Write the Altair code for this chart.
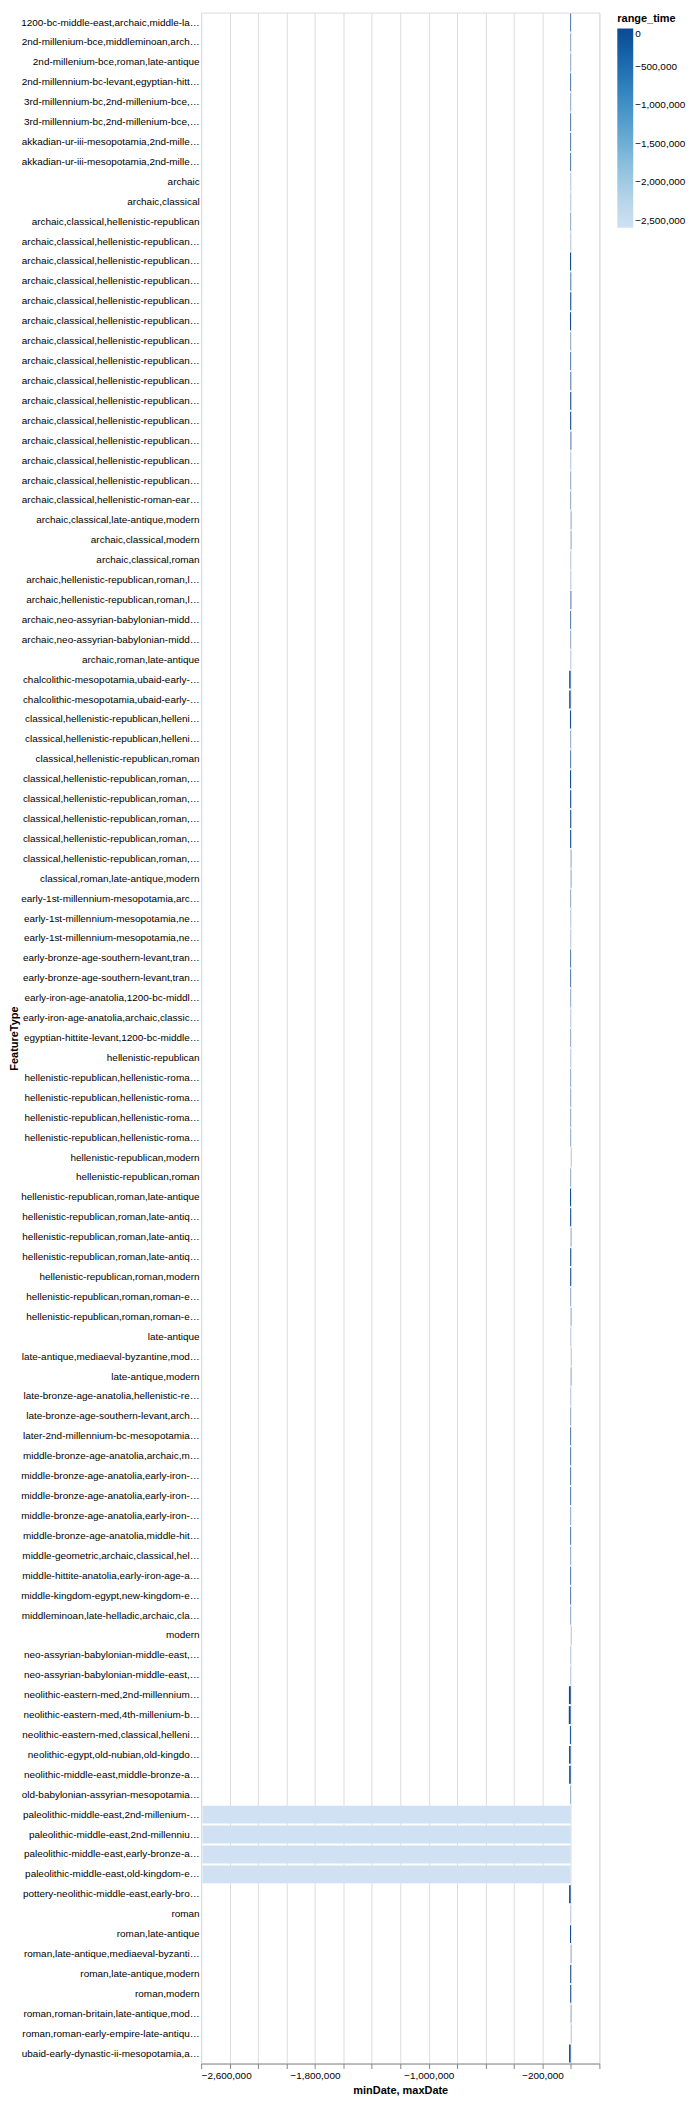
import altair as alt
import pandas as pd

feature_types = [
    "1200-bc-middle-east,archaic,middle-late-bronze-age",
    "2nd-millenium-bce,middleminoan,archaic,classical",
    "2nd-millenium-bce,roman,late-antique",
    "2nd-millennium-bc-levant,egyptian-hittite-levant,1200-bc-middle-east",
    "3rd-millennium-bc,2nd-millenium-bce,archaic",
    "3rd-millennium-bc,2nd-millenium-bce,classical",
    "akkadian-ur-iii-mesopotamia,2nd-millennium-bc-levant",
    "akkadian-ur-iii-mesopotamia,2nd-millennium-bc-mesopotamia",
    "archaic",
    "archaic,classical",
    "archaic,classical,hellenistic-republican",
    "archaic,classical,hellenistic-republican,hellenistic-roman-early-imperial",
    "archaic,classical,hellenistic-republican,late-antique",
    "archaic,classical,hellenistic-republican,mediaeval-byzantine",
    "archaic,classical,hellenistic-republican,modern",
    "archaic,classical,hellenistic-republican,roman",
    "archaic,classical,hellenistic-republican,roman,early-imperial",
    "archaic,classical,hellenistic-republican,roman,late-antique",
    "archaic,classical,hellenistic-republican,roman,late-antique,mediaeval-byzantine",
    "archaic,classical,hellenistic-republican,roman,late-antique,modern",
    "archaic,classical,hellenistic-republican,roman,mediaeval-byzantine",
    "archaic,classical,hellenistic-republican,roman,modern",
    "archaic,classical,hellenistic-republican,roman,roman-early-empire",
    "archaic,classical,hellenistic-republican,roman-early-empire-late-antique",
    "archaic,classical,hellenistic-roman-early-imperial",
    "archaic,classical,late-antique,modern",
    "archaic,classical,modern",
    "archaic,classical,roman",
    "archaic,hellenistic-republican,roman,late-antique",
    "archaic,hellenistic-republican,roman,late-antique,modern",
    "archaic,neo-assyrian-babylonian-middle-east,classical",
    "archaic,neo-assyrian-babylonian-middle-east,hellenistic-republican",
    "archaic,roman,late-antique",
    "chalcolithic-mesopotamia,ubaid-early-dynastic-ii-mesopotamia",
    "chalcolithic-mesopotamia,ubaid-early-dynastic-ii-mesopotamia,akkadian",
    "classical,hellenistic-republican,hellenistic-roman-early-imperial",
    "classical,hellenistic-republican,hellenistic-roman-early-imperial,roman",
    "classical,hellenistic-republican,roman",
    "classical,hellenistic-republican,roman,late-antique",
    "classical,hellenistic-republican,roman,late-antique,mediaeval-byzantine",
    "classical,hellenistic-republican,roman,late-antique,modern",
    "classical,hellenistic-republican,roman,mediaeval-byzantine",
    "classical,hellenistic-republican,roman,modern",
    "classical,roman,late-antique,modern",
    "early-1st-millennium-mesopotamia,archaic,classical",
    "early-1st-millennium-mesopotamia,neo-assyrian-babylonian-middle-east",
    "early-1st-millennium-mesopotamia,neo-babylonian-mesopotamia",
    "early-bronze-age-southern-levant,transjordan,late-bronze-age",
    "early-bronze-age-southern-levant,transjordan,middle-bronze-age",
    "early-iron-age-anatolia,1200-bc-middle-east,archaic",
    "early-iron-age-anatolia,archaic,classical,hellenistic-republican",
    "egyptian-hittite-levant,1200-bc-middle-east,archaic",
    "hellenistic-republican",
    "hellenistic-republican,hellenistic-roman-early-imperial",
    "hellenistic-republican,hellenistic-roman-early-imperial,late-antique",
    "hellenistic-republican,hellenistic-roman-early-imperial,roman",
    "hellenistic-republican,hellenistic-roman-early-imperial,roman,late-antique",
    "hellenistic-republican,modern",
    "hellenistic-republican,roman",
    "hellenistic-republican,roman,late-antique",
    "hellenistic-republican,roman,late-antique,mediaeval-byzantine",
    "hellenistic-republican,roman,late-antique,mediaeval-byzantine,modern",
    "hellenistic-republican,roman,late-antique,modern",
    "hellenistic-republican,roman,modern",
    "hellenistic-republican,roman,roman-early-empire-late-antique",
    "hellenistic-republican,roman,roman-early-empire-late-antique,modern",
    "late-antique",
    "late-antique,mediaeval-byzantine,modern",
    "late-antique,modern",
    "late-bronze-age-anatolia,hellenistic-republican,roman",
    "late-bronze-age-southern-levant,archaic,classical",
    "later-2nd-millennium-bc-mesopotamia,neo-assyrian-babylonian-middle-east",
    "middle-bronze-age-anatolia,archaic,middle-hittite-anatolia",
    "middle-bronze-age-anatolia,early-iron-age-anatolia",
    "middle-bronze-age-anatolia,early-iron-age-anatolia,archaic",
    "middle-bronze-age-anatolia,early-iron-age-anatolia,classical",
    "middle-bronze-age-anatolia,middle-hittite-anatolia",
    "middle-geometric,archaic,classical,hellenistic-republican",
    "middle-hittite-anatolia,early-iron-age-anatolia",
    "middle-kingdom-egypt,new-kingdom-egypt",
    "middleminoan,late-helladic,archaic,classical",
    "modern",
    "neo-assyrian-babylonian-middle-east,archaic",
    "neo-assyrian-babylonian-middle-east,classical",
    "neolithic-eastern-med,2nd-millennium-bc-levant",
    "neolithic-eastern-med,4th-millenium-bce,3rd-millennium-bc",
    "neolithic-eastern-med,classical,hellenistic-republican",
    "neolithic-egypt,old-nubian,old-kingdom-egypt",
    "neolithic-middle-east,middle-bronze-age-southern-levant",
    "old-babylonian-assyrian-mesopotamia,later-2nd-millennium-bc-mesopotamia",
    "paleolithic-middle-east,2nd-millenium-bce",
    "paleolithic-middle-east,2nd-millennium-bc-levant",
    "paleolithic-middle-east,early-bronze-age-southern-levant",
    "paleolithic-middle-east,old-kingdom-egypt",
    "pottery-neolithic-middle-east,early-bronze-age-southern-levant",
    "roman",
    "roman,late-antique",
    "roman,late-antique,mediaeval-byzantine,modern",
    "roman,late-antique,modern",
    "roman,modern",
    "roman,roman-britain,late-antique,modern",
    "roman,roman-early-empire-late-antique,modern",
    "ubaid-early-dynastic-ii-mesopotamia,akkadian-ur-iii-mesopotamia",
]

min_dates = [
    -4980, -2823, -1860, -5700, -2980, -4823, -5700, -5500, -1680, -1523,
    -2531, -1170, -6360, -3050, -5000, -6700, -2200, -3860, -3050, -5000,
    -5550, -2500, -900, -1860, -2470, -500, -500, -900, -560, -2500,
    -4823, -2531, -560, -12350, -12150, -6970, -2200, -4200, -6360, -5550,
    -5000, -5550, -500, -500, -2823, -1739, -1739, -5700, -6050, -2980,
    -1231, -2980, -1231, -2470, -1860, -2200, -1860, 800, -2200, -6360,
    -5550, -500, -5000, -5000, -1860, -500, -560, 800, -500, -900,
    -2823, -5039, -4980, -5200, -4980, -2823, -5680, -2531, -5200, -5570,
    -2823, 800, -1680, -1523, -14200, -15000, -7031, -13180, -12550, -3500,
    -2590000, -2590000, -2590000, -2590000, -13000, -900, -6360, -500, -5000, -5000,
    -500, 800, -13150,
]

max_dates = [
    -480, -323, 640, -1200, -480, -323, -1200, -1000, -480, -323,
    -31, 30, 640, 1450, 2000, 300, 300, 640, 1450, 2000,
    1450, 2000, 300, 640, 30, 2000, 2000, 300, 640, 2000,
    -323, -31, 640, -2350, -2150, 30, 300, 300, 640, 1450,
    2000, 1450, 2000, 2000, -323, -539, -539, -1200, -1550, -480,
    -31, -480, -31, 30, 640, 300, 640, 2000, 300, 640,
    1450, 2000, 2000, 2000, 640, 2000, 640, 2000, 2000, 300,
    -323, -539, -480, -700, -480, -323, -1180, -31, -700, -1070,
    -323, 2000, -480, -323, -1200, -2000, -31, -2180, -1550, -1000,
    -1000, -1200, -2000, -2180, -2000, 300, 640, 2000, 2000, 2000,
    2000, 2000, -2150,
]

df = pd.DataFrame({
    "FeatureType": feature_types,
    "minDate": min_dates,
    "maxDate": max_dates,
})

chart = (
    alt.Chart(df)
    .transform_calculate(range_time="datum.minDate - datum.maxDate")
    .mark_bar()
    .encode(
        x=alt.X("minDate:Q"),
        x2="maxDate:Q",
        y=alt.Y("FeatureType:N", sort=feature_types,
                axis=alt.Axis(domain=False, ticks=False, titlePadding=1)),
        color=alt.Color("range_time:Q", scale=alt.Scale(zero=True)),
    )
    .properties(
        width=400,
        height=alt.Step(20),
        padding={"left": 0, "top": 0, "right": 0, "bottom": 0},
    )
    .configure(font="Liberation Sans")
)

chart.save("out.html", embed_options={"renderer": "svg", "actions": False})
